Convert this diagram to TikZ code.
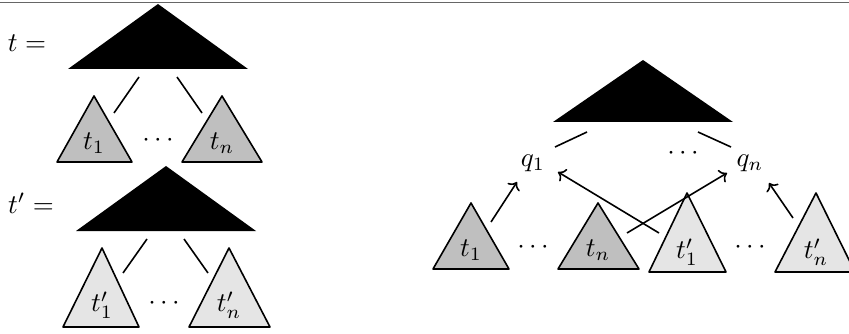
\documentclass[tikz,border=0pt]{standalone}
\usetikzlibrary{arrows.meta}
\begin{document}
\begin{tikzpicture}[x=1pt,y=-1pt,
  lw/.style={line width=1.6pt},
  blacktri/.style={fill=black},
  darktri/.style={lw,draw=black,fill=black!25,line join=round},
  lighttri/.style={lw,draw=black,fill=black!10,line join=round},
  edge/.style={lw},
  arr/.style={lw,-{To[scale=1.35]}},
  lab/.style={inner sep=0pt,scale=2.7},
  frame/.style={line width=1.5pt,draw=black!60}]
\useasboundingbox (0,0) rectangle (849,334);
\draw[frame] (0,2.5) -- (849,2.5);
% ---------- left: t ----------
\node[lab] (teq) at (27,43) {$t=$};
\fill[blacktri] (158,4) -- (68,69) -- (248,69) -- cycle;
\draw[darktri] (94,96) -- (57,162) -- (132,162) -- cycle;
\draw[darktri] (222,96) -- (182,162) -- (262,162) -- cycle;
\node[lab] (ta) at (94,143) {$t_1$};
\node[lab] (tb) at (222,143) {$t_n$};
\node[lab] (tdots) at (158,141) {$\cdots$};
\coordinate (ea1) at (139,77); \coordinate (ea2) at (114,113);
\coordinate (eb1) at (177,77); \coordinate (eb2) at (202,113);
\draw[edge] (ea1) -- (ea2);
\draw[edge] (eb1) -- (eb2);
% ---------- left: t' ----------
\node[lab] (tpeq) at (31,203) {$t'=$};
\fill[blacktri] (166,166) -- (76,231) -- (256,231) -- cycle;
\draw[lighttri] (102,248) -- (63,327) -- (139,327) -- cycle;
\draw[lighttri] (229,248) -- (189,327) -- (270,327) -- cycle;
\node[lab] (tpa) at (102,305) {$t'_1$};
\node[lab] (tpb) at (229,305) {$t'_n$};
\node[lab] (tpdots) at (164,303) {$\cdots$};
\coordinate (fa1) at (147,239); \coordinate (fa2) at (123,273);
\coordinate (fb1) at (184,239); \coordinate (fb2) at (208,273);
\draw[edge] (fa1) -- (fa2);
\draw[edge] (fb1) -- (fb2);
% ---------- right ----------
\fill[blacktri] (643,60) -- (553,122) -- (733,122) -- cycle;
\coordinate (ga1) at (587,132); \coordinate (ga2) at (555,147);
\coordinate (gb1) at (698,132); \coordinate (gb2) at (731,147);
\draw[edge] (ga1) -- (ga2);
\draw[edge] (gb1) -- (gb2);
\node[lab] (q1) at (533,163) {$q_1$};
\node[lab] (qn) at (750,163) {$q_n$};
\node[lab] (qdots) at (683,154) {$\cdots$};
\draw[darktri] (471,203) -- (433,269) -- (509,269) -- cycle;
\draw[darktri] (598,203) -- (558,269) -- (639,269) -- cycle;
\draw[lighttri] (687,193) -- (649,272) -- (726,272) -- cycle;
\draw[lighttri] (816,193) -- (775,272) -- (855,272) -- cycle;
\node[lab] (ra) at (471,250) {$t_1$};
\node[lab] (rb) at (598,250) {$t_n$};
\node[lab] (rc) at (687,252) {$t'_1$};
\node[lab] (rd) at (816,252) {$t'_n$};
\node[lab] (rdots1) at (533,247) {$\cdots$};
\node[lab] (rdots2) at (750,247) {$\cdots$};
\coordinate (s1) at (491,222); \coordinate (e1) at (517,182);
\coordinate (s2) at (659,233); \coordinate (e2) at (558,172);
\coordinate (s3) at (627,233); \coordinate (e3) at (727,173);
\coordinate (s4) at (793,218); \coordinate (e4) at (769,183);
\draw[arr] (s1) -- (e1);
\draw[arr] (s2) -- (e2);
\draw[arr] (s3) -- (e3);
\draw[arr] (s4) -- (e4);
\end{tikzpicture}
\end{document}
